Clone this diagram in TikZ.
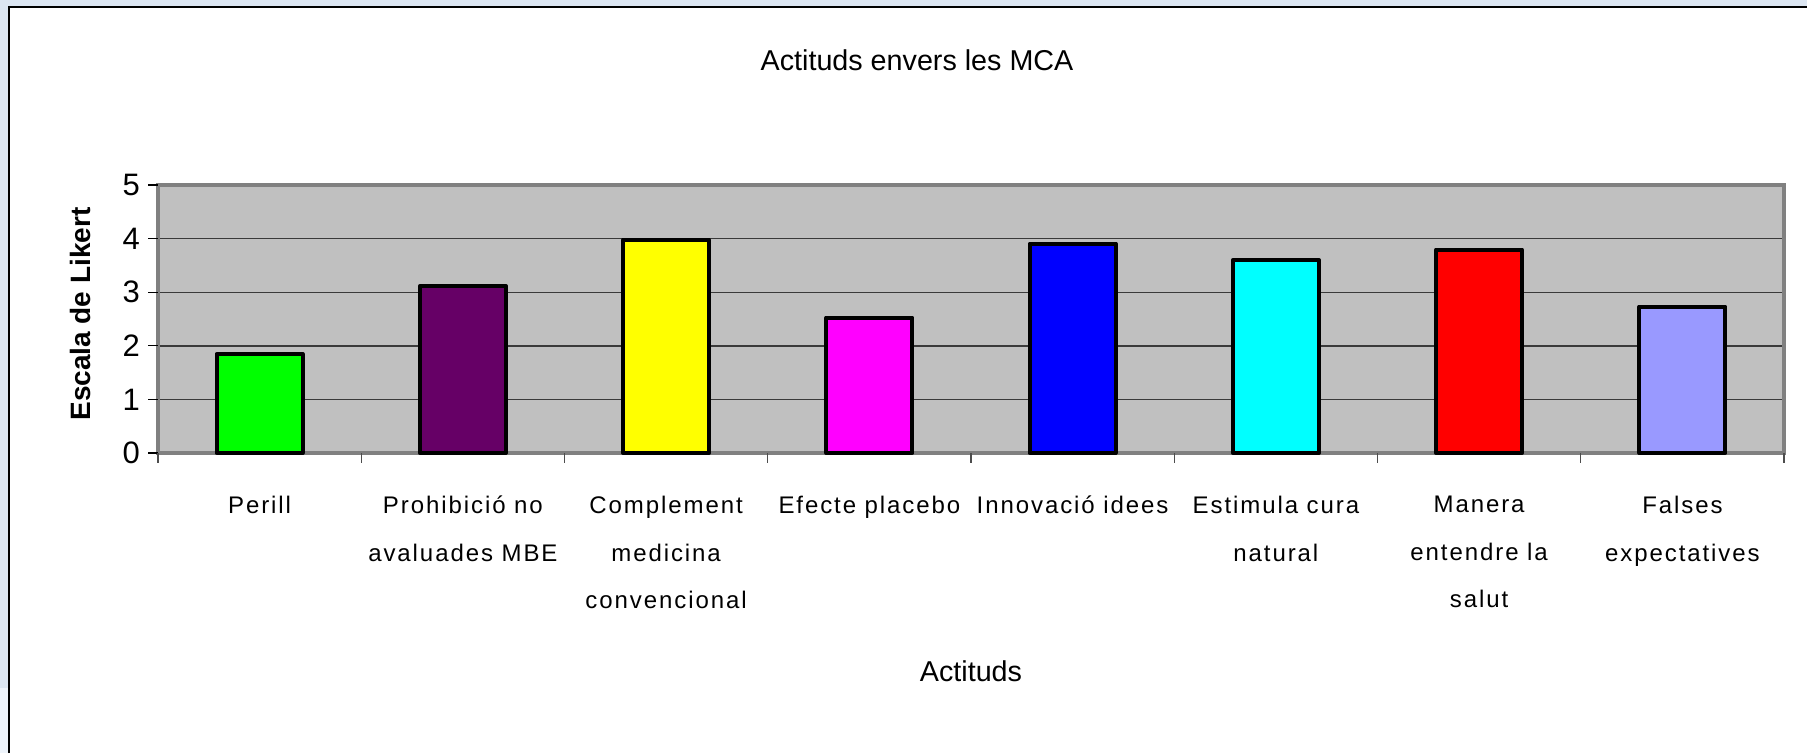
\documentclass[tikz,border=0pt]{standalone}
\usepackage{fontspec}
\setmainfont{Liberation Sans}
\newfontfamily\catfont[LetterSpace=8]{Liberation Sans}
\definecolor{slidebg}{HTML}{DCE6F2}
\definecolor{slidebglight}{HTML}{EEF4FB}
\definecolor{plotgray}{HTML}{C0C0C0}
\definecolor{framegray}{HTML}{808080}
\definecolor{gridgray}{HTML}{3A3A3A}
\definecolor{bargreen}{HTML}{00FF00}
\definecolor{barpurple}{HTML}{660066}
\definecolor{baryellow}{HTML}{FFFF00}
\definecolor{barmagenta}{HTML}{FF00FF}
\definecolor{barblue}{HTML}{0000FF}
\definecolor{barcyan}{HTML}{00FFFF}
\definecolor{barred}{HTML}{FF0000}
\definecolor{barlav}{HTML}{9999FF}
\tikzset{
  gridline/.style={draw=gridgray, line width=1.4pt},
  ytick/.style={draw=black, line width=1.2pt},
  xtick/.style={draw=framegray!60!black, line width=1.4pt},
  barbox/.style={draw=black, line width=4pt, line join=round},
  ylab/.style={anchor=east, inner sep=0pt, font=\fontsize{31}{31}\selectfont},
  catlabel/.style={anchor=north, inner sep=0pt, align=center, font=\catfont\fontsize{24}{47.5}\selectfont},
  bigtitle/.style={inner sep=0pt, font=\fontsize{28.7}{30}\selectfont},
}
\begin{document}
\begin{tikzpicture}[x=1pt,y=-1pt]
\useasboundingbox (0,0) rectangle (1807,753);
% slide background and chart area
\fill[slidebg] (0,0) rectangle (1807,753);
\fill[slidebglight] (0,688) rectangle (8,753);
\fill[white] (8,6) rectangle (1807,753);
\draw[black, line width=1.6pt] (8.8,753) -- (8.8,6.8) -- (1807,6.8);
% plot area
\fill[plotgray] (158,185) rectangle (1784,453);
\foreach \yy in {238.6,292.2,345.8,399.4}{
  \draw[gridline] (158,\yy) -- (1784,\yy);
}
\draw[framegray, line width=4pt] (158,185) rectangle (1784,453);
% y ticks and labels
\foreach \v/\yy in {0/453,1/399.4,2/345.8,3/292.2,4/238.6,5/185}{
  \draw[ytick] (148,\yy) -- (158,\yy);
  \node[ylab] (ylab\v) at (140,\yy) {\v};
}
% x ticks
\foreach \k in {0,...,8}{
  \draw[xtick] ({158+203.25*\k},453) -- ({158+203.25*\k},463);
}
% bars
\draw[barbox, fill=bargreen] (216.6,453) rectangle (302.6,354);
\draw[barbox, fill=barpurple] (419.9,453) rectangle (505.9,286);
\draw[barbox, fill=baryellow] (623.1,453) rectangle (709.1,239.5);
\draw[barbox, fill=barmagenta] (826.4,453) rectangle (912.4,317.5);
\draw[barbox, fill=barblue] (1029.6,453) rectangle (1115.6,243.5);
\draw[barbox, fill=barcyan] (1232.9,453) rectangle (1318.9,260);
\draw[barbox, fill=barred] (1436.1,453) rectangle (1522.1,249.5);
\draw[barbox, fill=barlav] (1639.4,453) rectangle (1725.4,306.5);
% category labels
\node[catlabel] (c1) at (259.6,496) {Perill};
\node[catlabel] (c2) at (462.9,496) {Prohibició no\\avaluades MBE};
\node[catlabel] (c3) at (666.1,496) {Complement\\medicina\\convencional};
\node[catlabel] (c4) at (869.4,496) {Efecte placebo};
\node[catlabel] (c5) at (1072.6,496) {Innovació idees};
\node[catlabel] (c6) at (1275.9,496) {Estimula cura\\natural};
\node[catlabel] (c7) at (1479.1,496) {Manera\\entendre la\\salut};
\node[catlabel] (c8) at (1682.4,496) {Falses\\expectatives};
% titles
\node[bigtitle] (title) at (917,60) {Actituds envers les MCA};
\node[bigtitle] (xtitle) at (971,671) {Actituds};
\node[inner sep=0pt, rotate=90, font=\fontsize{28}{30}\selectfont\bfseries] (ytitle) at (80,314) {Escala de Likert};
\end{tikzpicture}
\end{document}
